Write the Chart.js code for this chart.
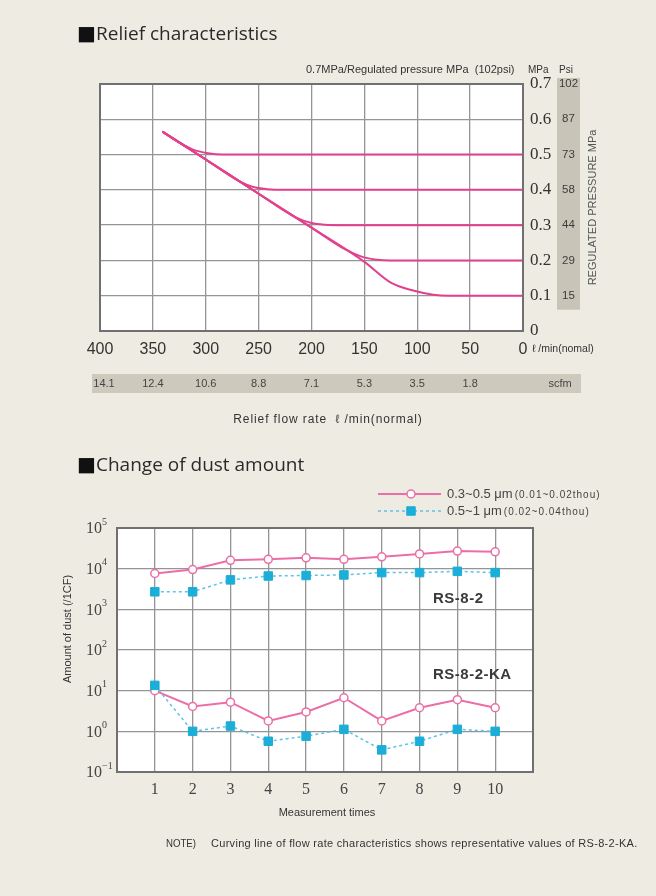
<!DOCTYPE html>
<html>
<head>
<meta charset="utf-8">
<script src="https://cdn.jsdelivr.net/npm/chart.js@4"></script>
<style>
  body { margin: 0; background: #eeece2; width: 656px; height: 896px; overflow: hidden; position: relative; }
  canvas { position: absolute; left: 0; }
  #relief { top: 0; }
  #dust { top: 440px; }
</style>
</head>
<body>
<canvas id="relief" width="656" height="440"></canvas>
<canvas id="dust" width="656" height="456"></canvas>
<script>
// ---- Relief characteristics data ----
const flowTicks = [400, 350, 300, 250, 200, 150, 100, 50, 0];
const scfmLabels = ['14.1', '12.4', '10.6', '8.8', '7.1', '5.3', '3.5', '1.8'];
const psiLabels = ['', '15', '29', '44', '58', '73', '87', '102'];

const flow05 = [341, 326, 312, 298, 284, 0];
const mpa05 = [0.565, 0.536, 0.514, 0.504, 0.5, 0.5];
const flow04 = [341, 300, 268, 255, 242, 225, 0];
const mpa04 = [0.565, 0.486, 0.424, 0.408, 0.402, 0.4, 0.4];
const flow03 = [341, 300, 250, 215, 200, 187, 175, 0];
const mpa03 = [0.565, 0.486, 0.389, 0.322, 0.306, 0.301, 0.3, 0.3];
const flow02 = [341, 300, 250, 200, 168, 152, 138, 125, 0];
const mpa02 = [0.565, 0.486, 0.389, 0.293, 0.231, 0.21, 0.202, 0.2, 0.2];
const flow01 = [341, 300, 250, 200, 150, 125, 103, 85, 70, 0];
const mpa01 = [0.565, 0.486, 0.389, 0.293, 0.196, 0.137, 0.114, 0.103, 0.1, 0.1];

// ---- Change of dust amount data ----
const times = [1, 2, 3, 4, 5, 6, 7, 8, 9, 10];
const rsSmall = [7600, 9500, 16000, 17000, 18500, 17000, 19500, 23000, 27000, 26000];
const rsLarge = [2700, 2700, 5300, 6600, 6800, 7000, 8000, 8000, 8600, 8000];
const kaSmall = [10, 4.1, 5.2, 1.8, 3.0, 6.7, 1.8, 3.8, 6.0, 3.8];
const kaLarge = [13.5, 1.0, 1.35, 0.57, 0.76, 1.12, 0.35, 0.57, 1.12, 1.0];
const dustExponents = [-1, 0, 1, 2, 3, 4, 5];
const legendMain = ['0.3~0.5 \u03bcm', '0.5~1 \u03bcm'];
const legendSub = ['(0.01~0.02thou)', '(0.02~0.04thou)'];

const pinkTop = '#e2418e';
const pink = '#ec6ea6';
const cyan = '#1aaed8';
const gridColor = '#959595';
const borderColor = '#707070';
const textColor = '#333333';
const sans = "'Liberation Sans', 'DejaVu Sans', sans-serif";
const serif = "'Liberation Serif', 'DejaVu Serif', serif";

function pts(xs, ys) {
    return xs.map((x, i) => ({ x: x, y: ys[i] }));
}

// draws text, returns its width
function txt(ctx, s, x, y, font, color, align, maxW, spacing) {
    ctx.save();
    ctx.font = font;
    ctx.fillStyle = color;
    ctx.textAlign = align || 'left';
    ctx.textBaseline = 'middle';
    if (spacing) ctx.letterSpacing = spacing;
    if (maxW) ctx.fillText(s, x, y, maxW); else ctx.fillText(s, x, y);
    const w = ctx.measureText(s).width;
    ctx.restore();
    return maxW ? Math.min(w, maxW) : w;
}

function heading(ctx, s, x, y, maxW) {
    txt(ctx, '\u25A0', x - 1, y, "20px 'DejaVu Sans'", '#111');
    txt(ctx, s, x + 18, y, "19px 'Open Sans', sans-serif", '#2a2a2a', 'left', maxW);
}

const plotBg = {
    id: 'plotBg',
    beforeDraw(chart) {
        const { ctx, chartArea: a } = chart;
        ctx.save();
        ctx.fillStyle = '#ffffff';
        ctx.fillRect(a.left, a.top, a.right - a.left, a.bottom - a.top);
        ctx.restore();
    },
    afterDatasetsDraw(chart) {
        const { ctx, chartArea: a } = chart;
        ctx.save();
        ctx.strokeStyle = borderColor;
        ctx.lineWidth = 2;
        ctx.strokeRect(a.left, a.top, a.right - a.left, a.bottom - a.top);
        ctx.restore();
    }
};

const reliefText = {
    id: 'reliefText',
    afterDraw(chart) {
        const { ctx } = chart;
        const x = chart.scales.x, y = chart.scales.y;
        heading(ctx, 'Relief characteristics', 78, 35, 186);
        txt(ctx, '0.7MPa/Regulated pressure MPa  (102psi)', 306, 70, '11px ' + sans, textColor, 'left', 213);
        txt(ctx, 'MPa', 528, 70, '10px ' + sans, textColor);
        txt(ctx, 'Psi', 559, 70, '10px ' + sans, textColor);

        // psi band
        ctx.save();
        ctx.fillStyle = '#c8c5b8';
        ctx.fillRect(557, y.getPixelForValue(0.7) - 6, 23, y.getPixelForValue(0.1) - y.getPixelForValue(0.7) + 20);
        ctx.restore();
        psiLabels.forEach((p, i) => {
            if (p) txt(ctx, p, 568.5, y.getPixelForValue(i / 10), '11.5px ' + sans, '#3c3c3c', 'center');
        });
        ctx.save();
        ctx.translate(593, (y.getPixelForValue(0.1) + y.getPixelForValue(0.6)) / 2);
        ctx.rotate(-Math.PI / 2);
        txt(ctx, 'REGULATED PRESSURE MPa', 0, 0, '11px ' + sans, '#555', 'center', 168);
        ctx.restore();

        txt(ctx, '\u2113 /min(nomal)', 532, 349, '10.5px ' + sans, textColor, 'left', 70);

        // scfm band
        ctx.save();
        ctx.fillStyle = '#cdcabd';
        ctx.fillRect(92, 374, 489, 19);
        ctx.restore();
        scfmLabels.forEach((s, i) => {
            txt(ctx, s, x.getPixelForValue(flowTicks[i]) + (i === 0 ? 4 : 0), 384, '11px ' + sans, '#444', 'center');
        });
        txt(ctx, 'scfm', 560, 384, '11px ' + sans, '#444', 'center');

        txt(ctx, 'Relief flow rate  \u2113 /min(normal)', 328, 420, '12px ' + sans, textColor, 'center', 192, '0.9px');
    }
};

const lineStyle = { borderColor: pinkTop, borderWidth: 2, pointRadius: 0, cubicInterpolationMode: 'monotone', fill: false };

new Chart(document.getElementById('relief'), {
    type: 'line',
    data: {
        datasets: [
            Object.assign({ label: '0.5', data: pts(flow05, mpa05) }, lineStyle),
            Object.assign({ label: '0.4', data: pts(flow04, mpa04) }, lineStyle),
            Object.assign({ label: '0.3', data: pts(flow03, mpa03) }, lineStyle),
            Object.assign({ label: '0.2', data: pts(flow02, mpa02) }, lineStyle),
            Object.assign({ label: '0.1', data: pts(flow01, mpa01) }, lineStyle)
        ]
    },
    options: {
        responsive: false,
        animation: false,
        layout: { padding: { left: 100, top: 84, right: 0, bottom: 49 } },
        plugins: { legend: { display: false }, tooltip: { enabled: false } },
        scales: {
            x: {
                type: 'linear', reverse: true, min: 0, max: 400,
                afterBuildTicks: s => { s.ticks = flowTicks.map(v => ({ value: v })); },
                ticks: { font: { family: sans, size: 16 }, color: textColor, padding: 9, maxRotation: 0, autoSkip: false },
                grid: { color: gridColor, lineWidth: 1.3, drawTicks: false },
                border: { display: false },
                afterFit: s => { s.height = 60; }
            },
            y: {
                type: 'linear', position: 'right', min: 0, max: 0.7,
                ticks: { stepSize: 0.1, callback: v => v === 0 ? '0' : v.toFixed(1), font: { family: serif, size: 17 }, color: textColor, padding: 7 },
                grid: { color: gridColor, lineWidth: 1.3, drawTicks: false },
                border: { display: false },
                afterFit: s => { s.width = 133; }
            }
        }
    },
    plugins: [plotBg, reliefText]
});

// ---- dust chart ----
const dustText = {
    id: 'dustText',
    afterDraw(chart) {
        const { ctx } = chart;
        const y = chart.scales.y;
        heading(ctx, 'Change of dust amount', 78, 26, 220);

        // legend
        const ds = chart.data.datasets;
        [[ds[0], 54], [ds[1], 71]].forEach(([d, ly], k) => {
            ctx.save();
            ctx.strokeStyle = d.borderColor;
            ctx.lineWidth = d.borderWidth;
            ctx.setLineDash(d.borderDash || []);
            ctx.beginPath();
            ctx.moveTo(378, ly);
            ctx.lineTo(441, ly);
            ctx.stroke();
            ctx.setLineDash([]);
            ctx.fillStyle = d.pointBackgroundColor;
            ctx.strokeStyle = d.pointBorderColor;
            ctx.lineWidth = d.pointBorderWidth;
            ctx.beginPath();
            if (d.pointStyle === 'rect') {
                const h = d.pointRadius * Math.SQRT1_2;
                ctx.rect(411 - h, ly - h, 2 * h, 2 * h);
            } else {
                ctx.arc(411, ly, d.pointRadius, 0, Math.PI * 2);
            }
            ctx.fill();
            ctx.stroke();
            ctx.restore();
            const w = txt(ctx, legendMain[k], 447, ly, '13px ' + sans, '#444', 'left');
            txt(ctx, legendSub[k], 447 + w + 2, ly + 1, '10px ' + sans, '#444', 'left', null, '1px');
        });

        // y tick labels 10^n
        dustExponents.forEach(e => {
            const py = y.getPixelForValue(Math.pow(10, e));
            txt(ctx, '10', 102, py + 1, '16px ' + serif, '#444', 'right');
            txt(ctx, String(e).replace('-', '\u2212'), 102, py - 6, '10px ' + serif, '#444', 'left');
        });
        ctx.save();
        ctx.translate(68, 189);
        ctx.rotate(-Math.PI / 2);
        txt(ctx, 'Amount of dust (/1CF)', 0, 0, '11px ' + sans, textColor, 'center', 118);
        ctx.restore();

        txt(ctx, 'RS-8-2', 433, 159, 'bold 15px ' + sans, '#3a3a3a', 'left', 56, '0.5px');
        txt(ctx, 'RS-8-2-KA', 433, 235, 'bold 15px ' + sans, '#3a3a3a', 'left', 84, '0.5px');

        txt(ctx, 'Measurement times', 327, 373, '11px ' + sans, textColor, 'center', 106);
        txt(ctx, 'NOTE)', 166, 404, '11px ' + sans, textColor, 'left', 30);
        txt(ctx, 'Curving line of flow rate characteristics shows representative values of RS-8-2-KA.', 211, 404, '11px ' + sans, textColor, 'left', 428, '0.3px');
    }
};

const smallStyle = { borderColor: pink, borderWidth: 2, pointStyle: 'circle', pointRadius: 4, pointBackgroundColor: '#ffffff', pointBorderColor: pink, pointBorderWidth: 1.5, tension: 0 };
const largeStyle = { borderColor: '#5cc4e4', borderWidth: 1.5, borderDash: [3, 3], pointStyle: 'rect', pointRadius: 6, pointBackgroundColor: cyan, pointBorderColor: cyan, pointBorderWidth: 1, tension: 0 };

new Chart(document.getElementById('dust'), {
    type: 'line',
    data: {
        datasets: [
            Object.assign({ label: legendMain[0] + ' ' + legendSub[0], data: pts(times, rsSmall) }, smallStyle),
            Object.assign({ label: legendMain[1] + ' ' + legendSub[1], data: pts(times, rsLarge) }, largeStyle),
            Object.assign({ label: 'KA ' + legendMain[1], data: pts(times, kaLarge) }, largeStyle),
            Object.assign({ label: 'KA ' + legendMain[0], data: pts(times, kaSmall) }, smallStyle)
        ]
    },
    options: {
        responsive: false,
        animation: false,
        layout: { padding: { left: 117, top: 88, right: 123, bottom: 84 } },
        plugins: { legend: { display: false }, tooltip: { enabled: false } },
        scales: {
            x: {
                type: 'linear', min: 0, max: 11,
                ticks: { stepSize: 1, callback: v => (v >= 1 && v <= 10) ? String(v) : '', font: { family: serif, size: 16 }, color: '#444', padding: 8, maxRotation: 0, autoSkip: false },
                grid: { color: gridColor, lineWidth: 1.3, drawTicks: false },
                border: { display: false },
                afterFit: s => { s.height = 40; }
            },
            y: {
                type: 'logarithmic', min: 0.1, max: 100000,
                afterBuildTicks: s => { s.ticks = dustExponents.map(e => ({ value: Math.pow(10, e) })); },
                ticks: { display: false },
                grid: { color: gridColor, lineWidth: 1.3, drawTicks: false },
                border: { display: false },
                afterFit: s => { s.width = 0; }
            }
        }
    },
    plugins: [plotBg, dustText]
});
</script>
</body>
</html>
